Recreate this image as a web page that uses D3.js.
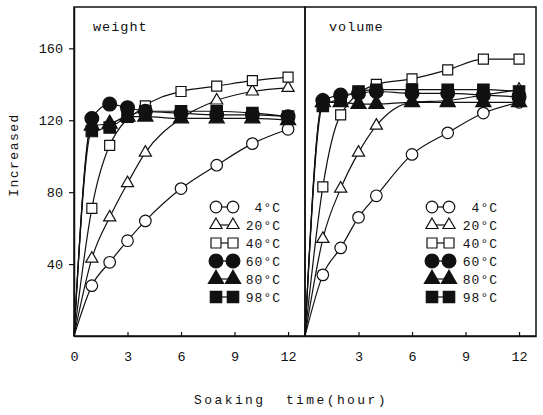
<!DOCTYPE html>
<html>
<head>
<meta charset="utf-8">
<script src="https://cdn.jsdelivr.net/npm/d3@7"></script>
<style>
  body { margin: 0; background: #fff; }
  svg text { font-family: 'Liberation Mono', 'DejaVu Sans Mono', monospace; fill: #111; }
</style>
</head>
<body>
<svg id="chart" width="543" height="415"></svg>
<script>
const hours = [1, 2, 3, 4, 6, 8, 10, 12]
const temps = ['4°C', '20°C', '40°C', '60°C', '80°C', '98°C']
const xTicks = [0, 3, 6, 9, 12]
const yTicks = [40, 80, 120, 160]

// weight increase
const weight4 = [28, 41, 53, 64, 82, 95, 107, 115]
const weight20 = [43, 66, 85, 102, 121, 131, 136, 138]
const weight40 = [71, 106, null, 128, 136, 139, 142, 144]
const weight60 = [121, 129, 127, 125, 124, 123, 123, 122]
const weight80 = [117, 118, 122, 122, 121, 121, 121, 120]
const weight98 = [114, 116, 122, 125, 125, 125, 124, 122]

// volume increase
const volume4 = [34, 49, 66, 78, 101, 113, 124, 130]
const volume20 = [54, 82, 102, 117, 130, 131, 134, 137]
const volume40 = [83, 123, null, 140, 143, 148, 154, 154]
const volume60 = [131, 134, 135, 136, 135, 135, 134, 133]
const volume80 = [130, 130, 129, 129, 130, 130, 130, 130]
const volume98 = [128, 132, 136, 137, 137, 137, 137, 136]

const panels = [
  { name: 'weight', x0: 74, labelX: 19, series: [weight4, weight20, weight40, weight60, weight80, weight98], tickLabels: xTicks, legendX: 142, legendText: 207 },
  { name: 'volume', x0: 305, labelX: 24, series: [volume4, volume20, volume40, volume60, volume80, volume98], tickLabels: xTicks.slice(1), legendX: 127, legendText: 193 },
]

// marker look per temperature
const shapes = [
  { type: d3.symbolCircle, size: 105, fill: '#fff' },
  { type: d3.symbolTriangle, size: 64, fill: '#fff' },
  { type: d3.symbolSquare, size: 100, fill: '#fff' },
  { type: d3.symbolCircle, size: 150, fill: '#111' },
  { type: d3.symbolTriangle, size: 100, fill: '#111' },
  { type: d3.symbolSquare, size: 130, fill: '#111' },
]

const svg = d3.select('#chart')
const yTop = 7
const yBottom = 336
const pw = 231

const y = d3.scaleLinear().domain([0, 183]).range([yBottom, yTop])

const drawMarker = (g, i, px, py) => {
  const s = shapes[i]
  g.append('path')
    .attr('d', d3.symbol().type(s.type).size(s.size)())
    .attr('transform', `translate(${px},${py})`)
    .attr('fill', s.fill)
    .attr('stroke', '#111')
    .attr('stroke-width', 1.2)
}

panels.forEach((p, pi) => {
  const x = d3.scaleLinear().domain([0, 12.95]).range([p.x0, p.x0 + pw])
  const g = svg.append('g')

  // bottom axis, ticks pointing inward
  const xAxis = g.append('g')
    .attr('transform', `translate(0,${yBottom})`)
    .call(d3.axisBottom(x).tickValues(xTicks).tickSizeInner(-4).tickSizeOuter(0)
      .tickFormat(d => p.tickLabels.includes(d) ? d : ''))
  xAxis.select('.domain').attr('stroke-width', 1.5).attr('stroke', '#111')
  xAxis.selectAll('.tick line').attr('stroke', '#111').attr('stroke-width', 1.2)
    .filter(d => d === 0).remove()
  xAxis.selectAll('.tick text').attr('dy', 0).attr('y', 25).attr('font-size', 13.5)

  if (pi === 0) {
    const yAxis = g.append('g')
      .attr('transform', `translate(${p.x0},0)`)
      .call(d3.axisLeft(y).tickValues(yTicks).tickSizeInner(5).tickSizeOuter(0).tickPadding(6))
    yAxis.select('.domain').attr('stroke-width', 1.5).attr('stroke', '#111')
    yAxis.selectAll('.tick line').attr('stroke', '#111').attr('stroke-width', 1.2)
    yAxis.selectAll('.tick text').attr('font-size', 13.5)
  }

  // panel frame
  g.append('rect')
    .attr('x', p.x0).attr('y', yTop)
    .attr('width', pw).attr('height', yBottom - yTop)
    .attr('fill', 'none').attr('stroke', '#111').attr('stroke-width', 1.5)

  g.append('text')
    .attr('x', p.x0 + p.labelX).attr('y', 31)
    .attr('font-size', 13.5).attr('letter-spacing', 1)
    .text(p.name)

  const line = d3.line()
    .x(d => x(d[0]))
    .y(d => y(d[1]))
    .curve(d3.curveMonotoneX)

  p.series.forEach((vals) => {
    const pts = [[0, 0]].concat(hours.map((h, j) => [h, vals[j]])).filter(d => d[1] !== null)
    g.append('path')
      .datum(pts)
      .attr('d', line)
      .attr('fill', 'none')
      .attr('stroke', '#111')
      .attr('stroke-width', 1.2)
  })

  p.series.forEach((vals, i) => {
    hours.forEach((h, j) => {
      if (vals[j] !== null) drawMarker(g, i, x(h), y(vals[j]))
    })
  })

  // legend
  temps.forEach((t, i) => {
    const ly = 207 + i * 18
    const lx = p.x0 + p.legendX
    g.append('line')
      .attr('x1', lx).attr('x2', lx + 17)
      .attr('y1', ly).attr('y2', ly)
      .attr('stroke', '#111').attr('stroke-width', 1.2)
    drawMarker(g, i, lx, ly)
    drawMarker(g, i, lx + 17, ly)
    g.append('text')
      .attr('x', p.x0 + p.legendText).attr('y', ly + 5)
      .attr('text-anchor', 'end')
      .attr('font-size', 13).attr('letter-spacing', 1)
      .text(t)
  })
})

svg.append('text')
  .attr('transform', 'translate(18,155) rotate(-90)')
  .attr('text-anchor', 'middle')
  .attr('font-size', 13).attr('letter-spacing', 1.5)
  .text('Increased')

svg.append('text')
  .attr('x', 291).attr('y', 404)
  .attr('text-anchor', 'middle')
  .attr('font-size', 13).attr('letter-spacing', 2.4)
  .style('white-space', 'pre')
  .text('Soaking  time(hour)')
</script>
</body>
</html>
